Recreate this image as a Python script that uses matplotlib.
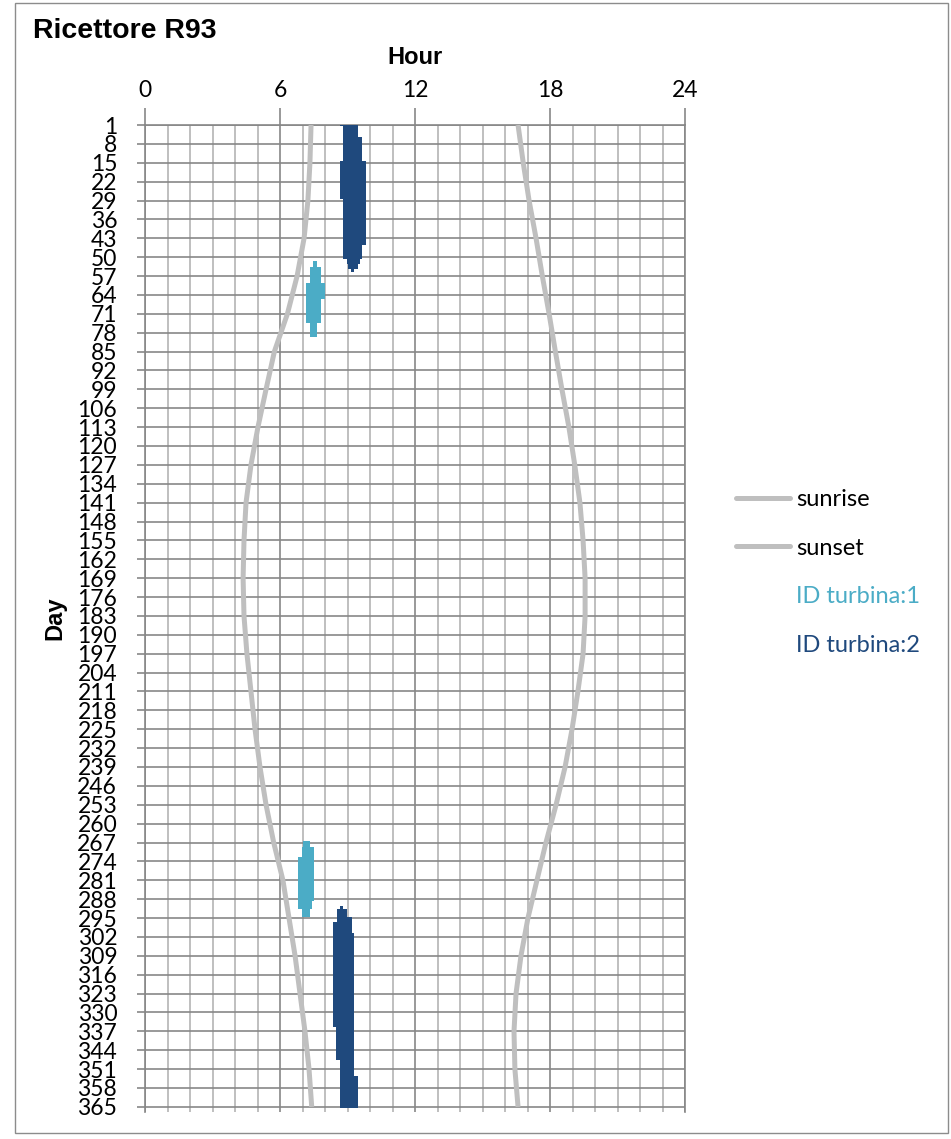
import matplotlib
matplotlib.use("Agg")
import matplotlib.pyplot as plt
import numpy as np
from matplotlib.lines import Line2D
from matplotlib.patches import Rectangle
from matplotlib.ticker import MultipleLocator

# sunrise / sunset hour, every 14 days
sun_days = [1, 15, 29, 43, 57, 71, 85, 99, 113, 127, 141, 155, 169, 183,
            197, 211, 225, 239, 253, 267, 281, 295, 309, 323, 337, 351, 365]
sunrise = [7.38, 7.33, 7.24, 7.07, 6.76, 6.33, 5.75, 5.38, 5.02, 4.71, 4.49, 4.40, 4.36, 4.40,
           4.53, 4.71, 4.89, 5.11, 5.38, 5.72, 6.13, 6.40, 6.67, 6.89, 7.11, 7.29, 7.41]
sunset = [16.58, 16.81, 17.07, 17.38, 17.66, 17.96, 18.24, 18.53, 18.84, 19.10, 19.33, 19.47, 19.56, 19.56,
          19.47, 19.24, 18.98, 18.67, 18.27, 17.82, 17.42, 17.02, 16.71, 16.49, 16.40, 16.44, 16.58]

# shadow windows: runs of days (first..last) with the same start / end hour
t1_first = [52, 54, 60, 66, 75, 267, 269, 273, 289, 292]
t1_last = [53, 59, 65, 74, 79, 268, 272, 288, 291, 294]
t1_start = [7.48, 7.33, 7.16, 7.16, 7.33, 7.04, 6.96, 6.81, 6.81, 6.96]
t1_end = [7.63, 7.81, 8.00, 7.81, 7.66, 7.33, 7.51, 7.51, 7.41, 7.33]

t2_first = [1, 2, 6, 15, 29, 46, 51, 53, 55, 291, 292, 295, 297, 301, 336, 348, 354]
t2_last = [1, 5, 14, 28, 45, 50, 52, 54, 55, 291, 294, 296, 300, 335, 347, 353, 365]
t2_start = [8.67, 8.81, 8.81, 8.67, 8.81, 8.81, 8.96, 9.04, 9.16,
            8.67, 8.52, 8.52, 8.34, 8.34, 8.49, 8.67, 8.67]
t2_end = [9.48, 9.48, 9.63, 9.81, 9.81, 9.63, 9.56, 9.48, 9.30,
          8.81, 8.96, 9.19, 9.19, 9.30, 9.30, 9.30, 9.45]

day_ticks = list(range(1, 366, 7))
hour_ticks = [0, 6, 12, 18, 24]

C_T1 = '#4bacc6'
C_T2 = '#1f497d'
C_SUN = '#bfbfbf'
C_GRID = '#878787'
C_MINOR = '#b4b4b4'


def expand(first, last, start, end):
    days, left, width = [], [], []
    for a, b, s, e in zip(first, last, start, end):
        for d in range(a, b + 1):
            days.append(d)
            left.append(s)
            width.append(e - s)
    return days, left, width


plt.rcParams['font.family'] = ['Lato', 'DejaVu Sans']

fig = plt.figure(figsize=(9.51, 11.39), dpi=100)
ax = fig.add_axes([145 / 951, 1 - 1112 / 1139, 540 / 951, (1112 - 125) / 1139])

# turbine windows
d1, l1, w1 = expand(t1_first, t1_last, t1_start, t1_end)
d2, l2, w2 = expand(t2_first, t2_last, t2_start, t2_end)
ax.barh(d1, w1, left=l1, height=1.0, color=C_T1, linewidth=0, zorder=3)
ax.barh(d2, w2, left=l2, height=1.0, color=C_T2, linewidth=0, zorder=3)

# sun lines
ax.plot(sunrise, sun_days, color=C_SUN, lw=3.6, solid_capstyle='butt', zorder=4)
ax.plot(sunset, sun_days, color=C_SUN, lw=3.6, solid_capstyle='butt', zorder=4)

ax.set_xlim(0, 24)
ax.set_ylim(366.9, 1)

ax.xaxis.tick_top()
ax.xaxis.set_label_position('top')
ax.set_xticks(hour_ticks)
ax.xaxis.set_minor_locator(MultipleLocator(1))
ax.set_yticks(day_ticks)
ax.set_yticklabels([str(d) for d in day_ticks])

ax.tick_params(axis='x', which='major', length=12, width=1.2, color=C_GRID,
               labelsize=16.5, pad=5)
ax.tick_params(axis='x', which='minor', length=0)
ax.tick_params(axis='y', which='major', length=6, width=1.2, color=C_GRID,
               labelsize=16.5, pad=14)

ax.grid(True, axis='y', which='major', color=C_GRID, lw=1.2)
ax.grid(True, axis='x', which='major', color=C_GRID, lw=1.2)
ax.grid(True, axis='x', which='minor', color=C_MINOR, lw=1.2)
ax.set_axisbelow(True)

for side in ['top', 'left', 'right']:
    ax.spines[side].set_color(C_GRID)
    ax.spines[side].set_linewidth(1.2)
ax.spines['bottom'].set_visible(False)

ax.set_xlabel('Hour', family='Liberation Sans', fontweight='bold', fontsize=17, labelpad=12)
ax.set_ylabel('Day', family='Liberation Sans', fontweight='bold', fontsize=17, labelpad=8)

fig.text(33 / 951, 1 - 31 / 1139, 'Ricettore R93', family='Liberation Sans',
         fontweight='bold', fontsize=20.5, va='center', ha='left')

# legend
handles = [Line2D([], [], color=C_SUN, lw=3.6, solid_capstyle='round'),
           Line2D([], [], color=C_SUN, lw=3.6, solid_capstyle='round'),
           Line2D([], [], color='none'),
           Line2D([], [], color='none')]
labels = ['sunrise', 'sunset', 'ID turbina:1', 'ID turbina:2']
leg = fig.legend(handles, labels, loc='upper left',
                 bbox_to_anchor=(736 / 951, 1 - 489 / 1139),
                 frameon=False, fontsize=17, handlelength=2.3,
                 handletextpad=0.25, labelspacing=1.17,
                 borderpad=0, borderaxespad=0)
for txt, col in zip(leg.get_texts(), ['black', 'black', C_T1, C_T2]):
    txt.set_color(col)

# outer frame
fig.patches.append(Rectangle((15 / 951, 6 / 1139), (948 - 15) / 951, (1136 - 6) / 1139,
                             transform=fig.transFigure, fill=False,
                             edgecolor='#8c8c8c', lw=1.0))

fig.savefig('out.png', dpi=100)
